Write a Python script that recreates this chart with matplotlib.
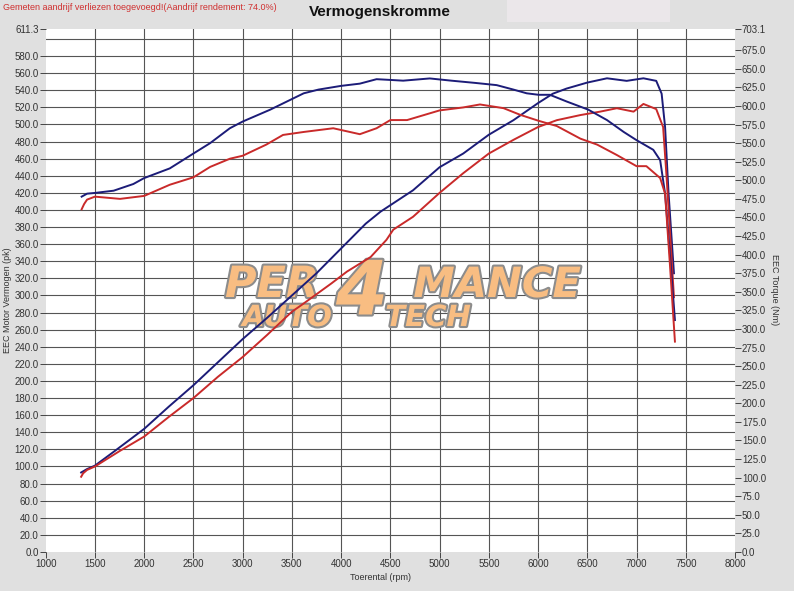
import matplotlib
matplotlib.use("Agg")
import matplotlib.pyplot as plt
import matplotlib.patheffects as pe
from matplotlib.patches import Rectangle

plt.rcParams['font.family'] = ['Liberation Sans', 'DejaVu Sans']

# ---------------- data ----------------
rpm_pow_blue = [1360, 1420, 1500, 1700, 2000, 2250, 2500, 2750, 3000, 3250, 3500, 3750, 4000,
                4250, 4400, 4730, 5000, 5240, 5500, 5750, 6000, 6150, 6290, 6500, 6700, 6900,
                7070, 7200, 7255, 7290, 7325, 7380]
pow_blue = [93, 97, 101, 118, 144, 170, 195, 222, 249, 274, 300, 326, 355,
            384, 398, 423, 450, 466, 488, 505, 525, 536, 542, 549, 554, 551,
            554, 551, 536, 497, 420, 326]

rpm_pow_red = [1360, 1380, 1420, 1500, 1750, 2000, 2250, 2500, 2750, 3000, 3250, 3500, 3600,
               3900, 4060, 4300, 4460, 4530, 4730, 5000, 5240, 5500, 5750, 6000, 6190, 6430,
               6630, 6800, 6970, 7070, 7200, 7270, 7305, 7380]
pow_red = [88, 92, 96, 100, 118, 135, 158, 180, 205, 228, 254, 281, 289,
           314, 328, 345, 365, 377, 392, 420, 443, 466, 482, 497, 505, 511,
           515, 519, 515, 524, 518, 497, 439, 298]

rpm_tq_blue = [1365, 1420, 1500, 1690, 1890, 2000, 2260, 2500, 2670, 2870, 3000, 3280, 3450,
               3620, 3770, 4000, 4190, 4360, 4500, 4630, 4900, 5120, 5360, 5580, 5750, 5885,
               6006, 6120, 6290, 6510, 6700, 6870, 7000, 7170, 7240, 7290, 7340, 7390]
tq_blue = [478, 482, 483, 486, 495, 503, 516, 536, 550, 570, 579, 595, 606,
           617, 622, 627, 630, 636, 635, 634, 637, 634, 631, 628, 622, 617,
           615, 615, 606, 595, 581, 565, 554, 541, 527, 482, 399, 312]

rpm_tq_red = [1365, 1390, 1420, 1500, 1755, 2000, 2260, 2500, 2670, 2870, 3000, 3240, 3410,
              3620, 3920, 4190, 4360, 4500, 4670, 5000, 5240, 5410, 5650, 5820, 6006, 6190,
              6430, 6600, 6800, 7000, 7100, 7240, 7290, 7340, 7390]
tq_red = [461, 468, 474, 478, 475, 479, 494, 504, 518, 529, 533, 548, 561,
          565, 570, 562, 570, 581, 581, 594, 598, 602, 597, 588, 580, 573,
          556, 548, 534, 519, 519, 503, 482, 385, 283]

x_ticks = [1000, 1500, 2000, 2500, 3000, 3500, 4000, 4500, 5000, 5500, 6000, 6500, 7000, 7500, 8000]
left_ticks = [0, 20, 40, 60, 80, 100, 120, 140, 160, 180, 200, 220, 240, 260, 280, 300, 320, 340,
              360, 380, 400, 420, 440, 460, 480, 500, 520, 540, 560, 580, 611.3]
left_grid = [20, 40, 60, 80, 100, 120, 140, 160, 180, 200, 220, 240, 260, 280, 300, 320, 340,
             360, 380, 400, 420, 440, 460, 480, 500, 520, 540, 560, 580, 600]
right_ticks = [0, 25, 50, 75, 100, 125, 150, 175, 200, 225, 250, 275, 300, 325, 350, 375, 400,
               425, 450, 475, 500, 525, 550, 575, 600, 625, 650, 675, 703.1]

W, H = 794, 591
BLUE = '#1c1c78'
RED = '#c92a2a'
BG = '#e0e0e0'

fig = plt.figure(figsize=(W / 100, H / 100), dpi=100, facecolor=BG)
ax = fig.add_axes([45.7 / W, 1 - 552 / H, (735 - 45.7) / W, (552 - 29.3) / H])
ax.set_facecolor('white')
ax2 = ax.twinx()

ax.set_xlim(1000, 8000)
ax.set_ylim(0, 611.3)
ax2.set_ylim(0, 703.1)

# grid
for g in left_grid:
    ax.axhline(g, color='#555555', lw=0.8, zorder=1)
for xv in x_ticks[1:-1]:
    ax.axvline(xv, color='#555555', lw=0.8, zorder=1)

for a in (ax, ax2):
    for s in a.spines.values():
        s.set_visible(False)

ax.set_xticks(x_ticks)
ax.set_xticklabels([str(v) for v in x_ticks])
ax.set_yticks(left_ticks)
ax.set_yticklabels(['%.1f' % v for v in left_ticks])
ax2.set_yticks(right_ticks)
ax2.set_yticklabels(['%.1f' % v for v in right_ticks])
ax.tick_params(axis='both', labelsize=7, colors='#444444', labelcolor='#333333',
               length=4, width=0.7, pad=1)
ax2.tick_params(axis='y', labelsize=7, colors='#444444', labelcolor='#333333',
                length=4, width=0.7, pad=1)

# watermark (inside axes, under the curves)
wm_kw = dict(transform=fig.transFigure, color='#f8bd82', fontweight='bold', style='italic',
             family='DejaVu Sans', ha='center', va='center', zorder=1.5,
             path_effects=[pe.Stroke(linewidth=3, foreground='#8c8c8c'), pe.Normal()])
ax.text(272 / W, 1 - 285 / H, 'PER', fontsize=31, **wm_kw)
ax.text(362 / W, 1 - 294 / H, '4', fontsize=54, **wm_kw)
ax.text(497 / W, 1 - 285 / H, 'MANCE', fontsize=30, **wm_kw)
ax.text(287 / W, 1 - 318 / H, 'AUTO', fontsize=21, **wm_kw)
ax.text(428 / W, 1 - 318 / H, 'TECH', fontsize=21, **wm_kw)

# curves
ax.plot(rpm_pow_blue, pow_blue, color=BLUE, lw=1.4, zorder=3)
ax.plot(rpm_pow_red, pow_red, color=RED, lw=1.4, zorder=3)
ax2.plot(rpm_tq_blue, tq_blue, color=BLUE, lw=1.4, zorder=3)
ax2.plot(rpm_tq_red, tq_red, color=RED, lw=1.4, zorder=3)

# labels and titles
fig.patches.append(Rectangle((507 / W, 1 - 22 / H), 163 / W, 22 / H,
                             transform=fig.transFigure, facecolor='#ebe7ea',
                             edgecolor='none', zorder=0))
fig.text(3 / W, 1 - 8 / H, 'Gemeten aandrijf verliezen toegevoegd!(Aandrijf rendement: 74.0%)',
         fontsize=6.5, color='#d03030', ha='left', va='center')
fig.text(380 / W, 1 - 12 / H, 'Vermogenskromme', fontsize=11, fontweight='bold',
         color='#111111', ha='center', va='center')
fig.text(8 / W, 1 - 300 / H, 'EEC Motor Vermogen (pk)', fontsize=6.5, color='#333333',
         rotation=90, ha='center', va='center')
fig.text(774 / W, 1 - 290 / H, 'EEC Torque (Nm)', fontsize=6.5, color='#333333',
         rotation=-90, ha='center', va='center')
fig.text(380 / W, 1 - 578 / H, 'Toerental (rpm)', fontsize=6.5, color='#333333',
         ha='center', va='center')

fig.savefig('out.png', dpi=100, facecolor=BG)
